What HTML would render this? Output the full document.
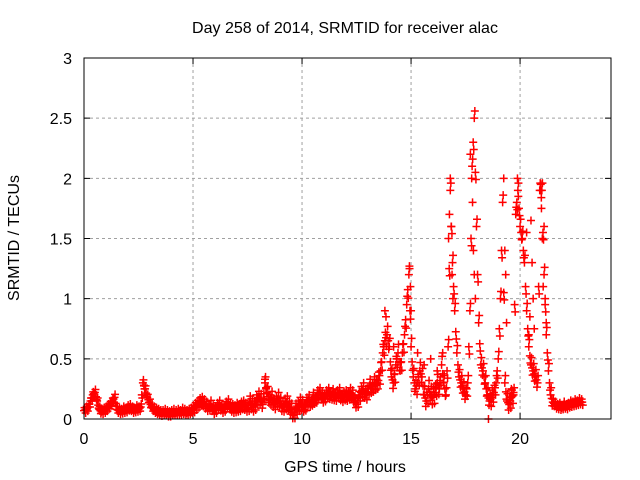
<!DOCTYPE html>
<html><head><meta charset="utf-8"><style>
body{margin:0;background:#fff;}
svg{display:block;font-family:"Liberation Sans",sans-serif;}
</style></head><body>
<svg id="chart" width="640" height="480" viewBox="0 0 640 480">
<text x="345" y="33" font-size="16" text-anchor="middle" fill="#000">Day 258 of 2014, SRMTID for receiver alac</text>
<text x="345" y="472" font-size="16" text-anchor="middle">GPS time / hours</text>
<text transform="translate(19,238) rotate(-90)" font-size="16" text-anchor="middle">SRMTID / TECUs</text>
<g id="grid"></g>
<g id="ticks"></g>
<g id="marks"></g>
<rect x="84" y="58" width="527" height="361" fill="none" stroke="#000" stroke-width="1"/>
</svg>
<script>
const xTicks=[0,5,10,15,20];
const yTicks=[0,0.5,1,1.5,2,2.5,3];
const yTickLabels=["0","0.5","1","1.5","2","2.5","3"];
const sampleStep=0.1;
const mainVals=[0.07,0.08,0.10,0.15,0.20,0.22,0.15,0.08,0.06,0.07,0.08,0.10,0.12,0.15,0.18,
0.08,0.07,0.06,0.08,0.07,0.09,0.10,0.08,0.07,0.09,0.08,0.10,
0.30,0.25,0.18,0.14,
0.10,0.08,0.07,0.06,0.05,0.05,0.06,0.05,0.04,0.05,0.06,0.05,0.06,0.05,0.07,0.06,0.05,0.06,0.07,0.08,
0.10,0.12,0.14,0.15,0.13,0.11,0.09,0.12,0.08,0.07,0.10,0.12,0.09,0.08,0.11,0.13,0.10,0.09,0.08,0.10,
0.09,0.11,0.12,0.10,0.09,0.14,0.12,0.10,0.15,0.18,0.16,0.12,0.30,0.22,0.15,0.18,0.12,0.14,0.17,0.13,
0.10,0.12,0.14,0.10,0.08,0.03,0.08,0.10,0.13,0.12,
0.08,0.14,0.16,0.12,0.18,0.15,0.20,0.22,0.18,0.17,0.20,0.22,0.19,0.21,0.18,0.20,0.22,0.17,0.19,0.20,
0.18,0.22,0.20,0.15,0.12,0.18,0.22,0.25,0.20,0.22,0.28,0.25,0.30,0.28,0.32,
0.40,0.55,0.65,0.70,0.60,
0.35,0.30,0.45,0.55,0.40,
0.55,0.70,0.95,1.20,0.60,0.35,
0.25,0.30,0.40,0.35,0.20,0.15,0.25,0.20,0.18,0.22,0.30,0.25,0.45,0.30,
0.20,0.60,1.90,1.30,0.90,0.55,0.35,
0.30,0.25,0.20,0.30,
0.90,2.10,2.50,1.60,0.80,0.45,
0.40,0.30,0.20,0.15,0.18,0.22,0.30,
0.50,1.00,1.80,0.30,0.15,
0.12,0.18,0.20,
1.70,1.90,1.60,1.50,1.30,0.90,
0.60,0.45,0.40,0.35,0.30,1.90,
1.90,1.20,0.70,0.40,0.20,0.14,
0.12,0.10,0.11,0.09,0.12,0.10,0.11,0.13,0.12,0.14,0.13,0.15,0.14];
const bandStart=[0,5,7.5,10,12.5,13.5,15,16.5,21.5];
const bandSpread=[0.025,0.035,0.05,0.04,0.05,0.07,0.07,0.06,0.025];
const extraT=[13.8,13.85,14.93,14.97,15.0,16.72,16.76,16.8,16.84,16.88,16.92,17.72,17.78,17.82,17.86,17.9,17.95,19.25,19.3,19.34,19.38,19.88,19.92,20.5,20.55,20.6,20.65,20.95,20.98,21.02,21.06,18.55,0.45,2.75,8.3,8.35,15.3,15.6,15.9,16.2,16.45,14.2,14.35,19.6,19.7,20.3,20.4,20.45,21.1,21.15,21.2];
const extraV=[0.90,0.85,1.25,1.10,0.90,1.50,1.70,2.00,1.60,1.20,1.00,2.20,2.00,1.80,1.40,1.20,1.00,2.00,1.40,1.20,0.80,2.00,1.85,1.65,1.30,1.00,0.75,1.95,1.75,1.50,1.10,0.00,0.18,0.28,0.33,0.25,0.55,0.45,0.50,0.40,0.55,0.60,0.50,0.25,0.22,1.55,0.70,0.85,1.60,1.00,0.80];
const X0=84,X1=611,Y0=419,Y1=58,XMAX=24.17,YMAX=3;
function xs(h){return X0+h/XMAX*(X1-X0);}
function ys(v){return Y0-v/YMAX*(Y0-Y1);}
const NS="http://www.w3.org/2000/svg";
const grid=document.getElementById('grid'),ticks=document.getElementById('ticks'),marks=document.getElementById('marks');
function mk(tag,attrs,parent){const e=document.createElementNS(NS,tag);for(const k in attrs)e.setAttribute(k,attrs[k]);parent.appendChild(e);return e;}
xTicks.forEach(t=>{
  const x=xs(t);
  if(t>0){const g=mk('line',{x1:x,x2:x,y1:Y1,y2:Y0,stroke:'#a0a0a0','stroke-dasharray':'3,3'},grid);
  
  }
  const tk=mk('path',{d:`M${x},${Y0}v-6M${x},${Y1}v6`,stroke:'#000'},ticks);
  
  
  const l=mk('text',{x:x,y:Y0+25,'font-size':16,'text-anchor':'middle'},ticks);l.textContent=String(t);
  
  
});
yTicks.forEach((t,i)=>{
  const y=ys(t);
  if(t>0&&t<YMAX){const g=mk('line',{x1:X0,x2:X1,y1:y,y2:y,stroke:'#a0a0a0','stroke-dasharray':'3,3'},grid);
  
  }
  const tk=mk('path',{d:`M${X0},${y}h6M${X1},${y}h-6`,stroke:'#000'},ticks);
  
  
  const l=mk('text',{x:X0-12,y:y+6,'font-size':16,'text-anchor':'end'},ticks);l.textContent=yTickLabels[i];
  
  
});
function plus(h,v){
  const x=xs(h),y=ys(Math.max(0,v));
  const p=mk('path',{d:`M${x-4},${y}h8M${x},${y-4}v8`,stroke:'#ff0000','stroke-width':1.5},marks);
  
  
}
function spreadAt(h){let s=bandSpread[0];bandStart.forEach((b,i)=>{if(h>=b)s=bandSpread[i];});return s;}
mainVals.forEach((v,i)=>{
  const h=i*sampleStep,s=spreadAt(h),n=(mainVals[i+1]??v);
  plus(h,v);
  plus(h+sampleStep/2,(v+n)/2);
  plus(h+sampleStep*0.25,v+s);
  plus(h+sampleStep*0.75,(v+n)/2-s);
});
extraT.forEach((t,i)=>plus(t,extraV[i]));
</script>
</body></html>
